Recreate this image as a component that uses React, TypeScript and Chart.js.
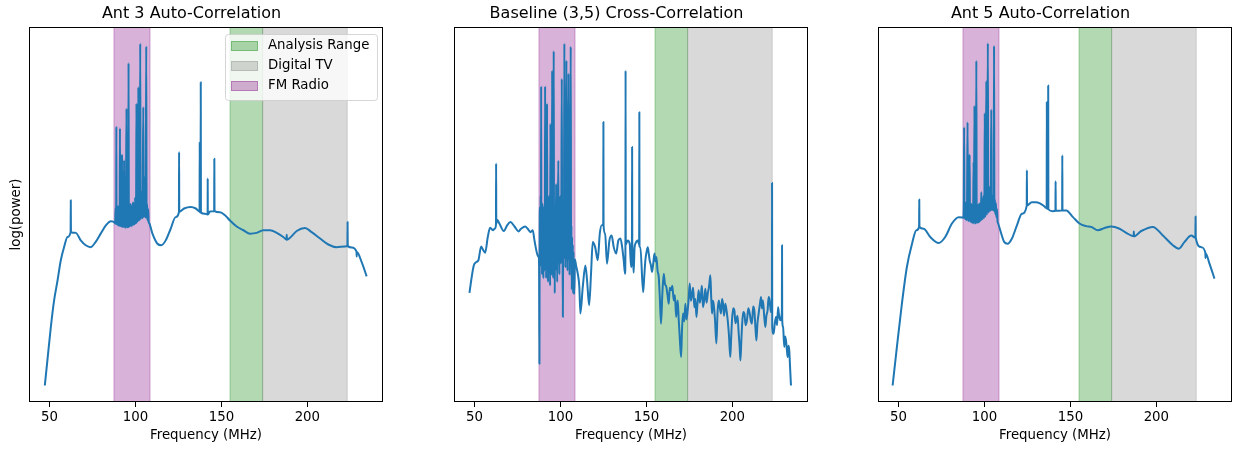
import React, { useEffect, useRef } from 'react';
import { Chart, registerables } from 'chart.js';

Chart.register(...registerables);

// ---------- data ----------
const xTicks = [50, 100, 150, 200];
const xMin = 38.1;
const xMax = 244;
const yMin = 0;
const yMax = 100;

const panelTitles = ['Ant 3 Auto-Correlation', 'Baseline (3,5) Cross-Correlation', 'Ant 5 Auto-Correlation'];
const yLabel = 'log(power)';
const xLabel = 'Frequency (MHz)';

const bandNames = ['Analysis Range', 'Digital TV', 'FM Radio'];
const bandStarts = [155, 174, 87.5];
const bandEnds = [174, 223.2, 108.5];

// [frequency MHz, log(power) in relative units]
const ant3Spectrum: [number, number][] = [
  [47.3, 4.4], [48.8, 11.1], [50.8, 20], [52.7, 27.1], [54.7, 32.4], [56.6, 37.8], [58.5, 41.3],
  [60.5, 44], [62.3, 45.3], [62.4, 53.8], [62.5, 45.3], [65.3, 45.1], [68.2, 43.1], [71.1, 41.8],
  [74, 41.3], [76.9, 42.7], [79.8, 44.9], [82.8, 47.1], [85.7, 48.2], [88.0, 47.8],
  [88.2, 47.6], [88.5, 51.8], [88.8, 47.4], [88.9, 73.5], [89.0, 47.4], [89.3, 51.5], [89.6, 47.2],
  [89.9, 52.3], [90.2, 47.0], [90.5, 51.6], [90.8, 46.9], [91.0, 73.0], [91.2, 46.9], [91.5, 51.8],
  [91.8, 46.8], [92.1, 52.0], [92.2, 66.0], [92.3, 46.7], [92.6, 51.3], [92.9, 46.6], [93.2, 52.4],
  [93.4, 64.5], [93.6, 46.6], [93.9, 51.5], [94.2, 46.5], [94.5, 52.0], [94.8, 78.3], [95.0, 46.5],
  [95.3, 51.7], [95.6, 46.6], [95.9, 52.2], [96.0, 90.4], [96.2, 46.7], [96.5, 51.4], [96.8, 46.8],
  [97.1, 52.0], [97.3, 52.8], [97.5, 46.9], [97.8, 51.5], [98.1, 47.0], [98.4, 52.3], [98.8, 53.2],
  [99.0, 47.2], [99.3, 52.0], [99.6, 47.4], [99.8, 54.5], [100.1, 47.6], [100.4, 52.4], [100.6, 79.6],
  [100.8, 47.8], [101.1, 52.6], [101.4, 48.1], [101.7, 84.0], [101.9, 48.3], [102.2, 53.0], [102.5, 48.5],
  [102.8, 95.6], [103.0, 48.7], [103.3, 53.4], [103.6, 56.0], [103.9, 49.0], [104.2, 53.5], [104.6, 78.7],
  [104.8, 49.2], [105.1, 53.8], [105.5, 60.0], [105.7, 49.2], [106.0, 53.5], [106.3, 94.9], [106.5, 48.9],
  [106.8, 52.8], [107.1, 48.4], [107.4, 51.5], [107.7, 48.0], [107.9, 47.8],
  [109.9, 44.9], [112.8, 42.2], [115.1, 41.8], [117.6, 43.1], [120.5, 46.2], [123.4, 49.3],
  [125.3, 50.6], [125.4, 66.7], [125.5, 50.7], [128.3, 51.6], [132.2, 52.0], [135.1, 51.6],
  [137.3, 50.8], [137.4, 69.3], [137.5, 50.7], [137.9, 50.6], [138.0, 85.3], [138.1, 50.5],
  [140.5, 50.2], [142.0, 50.0], [142.05, 59.6], [142.1, 50.0], [143.4, 50.8], [145.8, 50.9],
  [145.9, 64.9], [146.0, 50.9], [149.2, 50.6], [152.1, 49.8], [155, 48.4], [158.9, 46.8],
  [162.8, 45.8], [166.7, 44.9], [170.5, 45.1], [174.4, 45.8], [178.3, 45.8], [182.2, 45.1],
  [186, 44], [187.9, 43.3], [188.0, 44.6], [188.1, 43.3], [189.9, 43.8], [193.8, 45.6],
  [198.6, 46.4], [202.5, 45.3], [207.4, 43.6], [212.2, 42], [217, 41.3], [221.9, 41.5],
  [223.3, 41.6], [223.4, 48.0], [223.5, 41.6], [225.8, 41.2], [228.6, 40.1], [228.7, 38.8],
  [228.8, 40.0], [231.6, 37.3], [234.5, 33.5],
];

const crossSpectrum: [number, number][] = [
  [47.1, 29.1], [48.1, 32.4], [49.6, 36.4], [51, 37.3], [52.3, 37.8], [53.9, 41.5], [55, 40.6],
  [56.2, 39.8], [57.75, 44], [59.1, 46.5], [60.7, 45.8], [61.8, 46.2], [62.5, 47.2], [62.6, 63.6],
  [62.7, 47.5], [63.2, 48.6], [64.5, 47.6], [67.1, 45.6], [69, 47.1], [70.9, 48], [73.3, 46.8],
  [75.6, 45.5], [77.1, 46.2], [79.5, 46.8], [81, 46.2], [82.6, 45.3], [83.9, 45.8], [84.9, 43.1],
  [86.4, 39.6], [87.2, 38.7],
  [87.4, 38.7], [87.6, 36], [87.8, 10.2], [87.9, 40], [88.1, 52], [88.3, 36], [88.5, 55], [88.7, 38],
  [88.8, 84.2], [88.9, 40], [89.1, 50], [89.3, 34], [89.5, 53], [89.7, 37], [89.9, 48], [90.1, 33],
  [90.3, 52], [90.5, 36], [90.7, 46], [90.9, 35], [91.1, 84.2], [91.3, 38], [91.5, 54], [91.7, 33],
  [91.9, 47], [92.1, 36], [92.2, 79.6], [92.4, 38], [92.6, 50], [92.8, 32], [93.0, 45], [93.2, 36],
  [93.4, 55], [93.6, 34], [93.8, 49], [94.0, 31], [94.2, 74.2], [94.4, 37], [94.6, 52], [94.8, 34],
  [95.0, 47], [95.2, 88.4], [95.4, 35], [95.6, 51], [95.8, 33], [96.1, 93.6], [96.3, 38], [96.5, 49],
  [96.7, 29], [96.9, 46], [97.1, 36], [97.5, 58.2], [97.7, 35], [97.9, 50], [98.1, 32], [98.4, 45],
  [98.8, 64.4], [99.0, 37], [99.2, 51], [99.4, 34], [99.6, 48], [99.8, 38], [100.0, 55], [100.2, 37],
  [100.5, 47], [100.8, 86.2], [101.0, 39], [101.2, 50], [101.4, 22.7], [101.6, 44], [101.8, 52],
  [102.0, 38], [102.3, 95.6], [102.5, 40], [102.7, 53], [102.9, 36], [103.1, 49], [103.5, 91.1],
  [103.7, 38], [103.9, 52], [104.1, 35], [104.4, 48], [104.7, 87.6], [104.9, 38], [105.1, 51],
  [105.3, 34], [105.6, 49], [106.0, 94.8], [106.2, 36], [106.4, 47], [106.6, 30], [106.8, 44],
  [107.0, 33], [107.2, 42], [107.4, 29], [107.6, 40], [107.8, 31], [108.1, 28.9], [108.4, 38],
  [109.1, 36.4], [110.1, 34.2], [111, 30.7], [111.6, 23.6], [113, 30.7], [114.5, 36.4], [115.5, 32.4],
  [116.7, 25.8], [117.8, 34.2], [118.8, 42.7], [120.2, 41.3], [121.7, 37.8], [122.9, 44.9], [124, 47.1],
  [124.9, 47.5], [125.0, 74.7], [125.1, 47], [126, 44.9], [127.1, 36.9], [128.5, 43.1], [129.8, 44.4],
  [131, 41.3], [132.4, 39.6], [133.7, 43.1], [134.9, 43.6], [135.9, 41.3], [136.8, 37.8], [137.6, 34.2],
  [137.8, 40], [137.9, 88.4], [138.0, 42], [139.1, 43.1], [140.3, 42.2], [141.1, 36], [141.6, 43],
  [141.7, 68], [141.8, 42.5], [142.2, 38.7], [142.6, 34.5], [143.1, 41], [143.6, 42.2], [145, 43.1],
  [145.8, 42], [145.9, 77.3], [146.0, 41.5], [146.5, 41.3], [148.1, 29.3], [148.7, 33], [149.4, 37.8],
  [150.1, 40], [150.8, 41.3], [151.4, 39.5], [151.9, 37.8], [152.6, 36.5], [153.3, 34.7], [154.0, 37],
  [154.7, 39.6], [155.2, 37.5], [155.8, 38.7], [156.5, 35], [157.2, 33.3], [157.8, 28], [158.5, 20.9],
  [159.3, 29], [160.1, 34.2], [160.8, 31.5], [161.6, 30.7], [162.3, 28.5], [163, 26.2], [163.6, 30.5],
  [164.3, 29.8], [165.1, 31], [165.9, 27.1], [166.6, 28.5], [167.3, 22.7], [167.7, 25], [168.2, 27.1],
  [168.8, 22], [169.4, 17.3], [170.2, 12], [170.7, 19], [171.3, 23.6], [172.0, 21.5], [172.7, 26.2],
  [173.3, 22], [174, 24.4], [174.6, 27.5], [175.2, 31.6], [175.9, 27], [176.6, 28.9], [177.2, 30.5],
  [177.9, 25.3], [178.5, 27.5], [179.1, 22.7], [179.7, 26], [180.4, 29.8], [181.1, 26.5], [181.8, 28.9],
  [182.3, 31], [182.9, 25.3], [183.6, 27], [184.3, 30.2], [185.0, 26.5], [185.7, 28.9], [186.5, 31],
  [187.2, 33.8], [187.7, 28], [188.2, 23.6], [188.6, 27], [189.1, 26.2], [189.9, 22], [190.7, 15.6],
  [191.4, 24], [192.1, 27.1], [192.8, 25], [193.4, 23.6], [194.0, 27.5], [194.6, 26.2], [195.2, 23],
  [195.9, 26.2], [196.6, 24.5], [197.3, 21.8], [198.0, 18], [198.8, 12], [199.3, 17], [199.8, 21.8],
  [200.5, 25], [201.2, 24.4], [201.8, 21], [202.3, 21.8], [203.0, 23], [203.7, 18.2], [204.2, 15],
  [204.7, 11.1], [205.2, 16], [205.6, 20], [206.3, 24], [207, 23.6], [207.7, 20.5], [208.5, 21.8],
  [209.3, 25], [210.1, 23.6], [210.8, 21.5], [211.4, 20.9], [212.1, 25.5], [212.8, 24.4], [213.4, 20],
  [214, 16.4], [214.6, 21], [215.3, 23.6], [216.0, 26], [216.7, 28], [217.2, 25], [217.8, 27.1],
  [218.5, 23], [219.2, 20], [219.8, 23], [220.5, 24.4], [221.1, 28], [221.7, 27.1], [222.4, 24],
  [223.0, 25], [223.1, 58.4], [223.2, 20], [224, 18.2], [224.7, 21], [225.4, 22.7], [226.0, 20.5],
  [226.6, 25.3], [227.2, 23], [227.9, 21.8], [228.8, 24], [228.9, 41.8], [229.0, 22], [229.5, 20],
  [230.2, 14.7], [230.7, 17.5], [231.2, 16.4], [231.7, 14], [232.2, 12], [232.6, 15], [233.1, 13.8],
  [233.6, 9], [234.1, 4.4],
];

const ant5Spectrum: [number, number][] = [
  [46.6, 4.4], [49.1, 14.7], [52, 26.2], [54.9, 36], [57.9, 42.2], [60.4, 45.8], [62.0, 46.7],
  [62.1, 54], [62.2, 46.7], [64.6, 46.2], [68.5, 44], [73.4, 42.4], [77.2, 44], [81.1, 47.6],
  [85, 49.3], [87.4, 49.2],
  [87.7, 49.1], [88.0, 53.0], [88.2, 73.3], [88.4, 48.9], [88.7, 52.8], [89.0, 48.7], [89.3, 53.2],
  [89.6, 48.5], [89.9, 52.6], [90.2, 74.6], [90.4, 48.3], [90.7, 52.7], [91.0, 48.2], [91.4, 66.0],
  [91.6, 48.1], [91.9, 52.4], [92.2, 48.0], [92.5, 52.9], [92.8, 47.8], [93.1, 52.2], [93.4, 47.7],
  [93.7, 64.0], [93.9, 47.6], [94.2, 79.0], [94.4, 47.6], [94.7, 52.4], [95.0, 47.6], [95.3, 91.0],
  [95.5, 47.7], [95.8, 52.3], [96.1, 47.8], [96.4, 52.6], [96.7, 47.9], [97.0, 53.0], [97.3, 48.1],
  [97.6, 52.8], [97.9, 48.4], [98.2, 56.0], [98.4, 48.6], [98.7, 53.0], [99.0, 48.8], [99.3, 53.4],
  [99.5, 55.0], [99.7, 49.1], [100.0, 53.6], [100.2, 77.0], [100.4, 49.5], [100.7, 53.9], [101.1, 85.6],
  [101.3, 50.0], [101.6, 54.2], [102.0, 95.7], [102.2, 50.5], [102.5, 54.5], [102.8, 50.8], [103.2, 57.5],
  [103.4, 51.0], [103.7, 55.0], [104.0, 78.0], [104.2, 51.2], [104.5, 55.2], [104.8, 51.2], [105.1, 54.8],
  [105.4, 51.0], [105.6, 95.0], [105.8, 50.7], [106.1, 54.0], [106.4, 50.0], [106.7, 53.0], [107.0, 49.2],
  [107.3, 51.5], [107.6, 48.3], [108.0, 47.6],
  [109.2, 45.8], [111.5, 42.7], [113.5, 42.2], [116, 43.6], [118.9, 47.1], [121.8, 50.2], [124.6, 52.3],
  [124.7, 61.8], [124.8, 52.4], [127.6, 53.3], [130, 53.3], [132.5, 52.9], [134.5, 52.3], [136.2, 51.7],
  [136.3, 80.0], [136.4, 51.6], [137.0, 51.5], [137.1, 84.4], [137.2, 51.4], [139.8, 50.9], [141.3, 51.0],
  [141.4, 58.9], [141.5, 51.0], [143.5, 51.0], [145.2, 51.1], [145.3, 65.8], [145.4, 51.1], [147.6, 51.1],
  [151.5, 49.3], [155.3, 47.6], [159.2, 46.9], [162.1, 46.7], [166, 45.8], [169.9, 46.4], [173.7, 46.8],
  [178.6, 46.2], [182.5, 45.1], [186.8, 44.2], [186.9, 45.5], [187.0, 44.2], [191.2, 45.6], [198, 46.7],
  [203.8, 44.4], [209.6, 41.8], [213.1, 40.9], [216.4, 42.7], [220.3, 44.4], [222.7, 43.8], [222.8, 49.5],
  [222.9, 43.8], [226.1, 41.3], [228.5, 39.8], [228.6, 38.4], [228.7, 39.6], [230.9, 36.9], [233.8, 32.9],
];

const panelSpectra = [ant3Spectrum, crossSpectrum, ant5Spectrum];

// ---------- styles / layout ----------
const FONT = "'DejaVu Sans', 'Liberation Sans', sans-serif";
const LINE_COLOR = '#1f77b4';
const BAND_COLORS = ['rgba(0,128,0,0.3)', 'rgba(128,128,128,0.3)', 'rgba(128,0,128,0.3)'];
const CANVAS_LEFTS = [0, 425, 849];
const CANVAS_W = 386;
const CANVAS_H = 449;

const bandsPlugin = {
  id: 'bands',
  beforeDatasetsDraw(chart: any) {
    const { ctx, chartArea } = chart;
    const xs = chart.scales.x;
    ctx.save();
    ctx.beginPath();
    ctx.rect(chartArea.left, chartArea.top, chartArea.right - chartArea.left, chartArea.bottom - chartArea.top);
    ctx.clip();
    for (let i = 0; i < bandNames.length; i++) {
      const x1 = xs.getPixelForValue(bandStarts[i]);
      const x2 = xs.getPixelForValue(bandEnds[i]);
      ctx.fillStyle = BAND_COLORS[i];
      ctx.fillRect(x1, chartArea.top, x2 - x1, chartArea.bottom - chartArea.top);
      ctx.strokeStyle = BAND_COLORS[i];
      ctx.lineWidth = 1;
      ctx.beginPath();
      ctx.moveTo(x1, chartArea.top);
      ctx.lineTo(x1, chartArea.bottom);
      ctx.moveTo(x2, chartArea.top);
      ctx.lineTo(x2, chartArea.bottom);
      ctx.stroke();
    }
    ctx.restore();
  },
};

const framePlugin = {
  id: 'frame',
  afterDatasetsDraw(chart: any) {
    const { ctx, chartArea } = chart;
    ctx.save();
    ctx.strokeStyle = '#000';
    ctx.lineWidth = 1;
    ctx.strokeRect(chartArea.left + 0.5, chartArea.top + 0.5, chartArea.right - chartArea.left - 1, chartArea.bottom - chartArea.top - 1);
    ctx.restore();
  },
};

const legendPlugin = {
  id: 'bandLegend',
  afterDraw(chart: any) {
    if (!chart.options.plugins.bandLegend?.show) return;
    const { ctx, chartArea } = chart;
    const w = 152;
    const h = 66;
    const left = chartArea.right - 6 - w;
    const top = chartArea.top + 7;
    ctx.save();
    ctx.fillStyle = 'rgba(255,255,255,0.8)';
    ctx.strokeStyle = 'rgba(204,204,204,0.8)';
    ctx.lineWidth = 1;
    ctx.beginPath();
    (ctx as any).roundRect(left + 0.5, top + 0.5, w, h, 3);
    ctx.fill();
    ctx.stroke();
    ctx.font = `13.33px ${FONT}`;
    ctx.textBaseline = 'middle';
    ctx.textAlign = 'left';
    for (let i = 0; i < bandNames.length; i++) {
      const cy = top + 12 + i * 20;
      ctx.fillStyle = BAND_COLORS[i];
      ctx.fillRect(left + 6, cy - 5, 27, 10);
      ctx.strokeStyle = BAND_COLORS[i];
      ctx.strokeRect(left + 6.5, cy - 4.5, 26, 9);
      ctx.fillStyle = '#000';
      ctx.fillText(bandNames[i], left + 43, cy);
    }
    ctx.restore();
  },
};

function Panel({ idx }: { idx: number }) {
  const ref = useRef<HTMLCanvasElement | null>(null);
  useEffect(() => {
    if (!ref.current) return;
    const pts = panelSpectra[idx].map(([x, y]) => ({ x, y }));
    const chart = new Chart(ref.current, {
      type: 'line',
      data: {
        datasets: [
          {
            data: pts,
            borderColor: LINE_COLOR,
            borderWidth: 2,
            pointRadius: 0,
            cubicInterpolationMode: 'monotone',
            fill: false,
            borderJoinStyle: 'round',
            borderCapStyle: 'butt',
          } as any,
        ],
      },
      options: {
        animation: false,
        responsive: false,
        devicePixelRatio: 1,
        layout: { padding: { left: 0, right: 3, top: 0, bottom: 0 } },
        plugins: {
          legend: { display: false },
          tooltip: { enabled: false },
          title: {
            display: true,
            text: panelTitles[idx],
            color: '#000',
            font: { family: FONT, size: 16, weight: 'normal' as any },
            padding: { top: 4.6, bottom: 3.2 },
          },
          bandLegend: { show: idx === 0 },
        } as any,
        scales: {
          x: {
            type: 'linear',
            min: xMin,
            max: xMax,
            afterBuildTicks: (s: any) => {
              s.ticks = xTicks.map((v) => ({ value: v }));
            },
            afterFit: (s: any) => {
              s.height = 47;
            },
            ticks: {
              color: '#000',
              font: { family: FONT, size: 13.33 },
              padding: 3,
              maxRotation: 0,
              autoSkip: false,
            },
            grid: {
              display: true,
              drawOnChartArea: false,
              drawTicks: true,
              tickLength: 5,
              tickColor: '#000',
              tickWidth: 1,
            },
            border: { display: false },
            title: {
              display: true,
              text: xLabel,
              color: '#000',
              font: { family: FONT, size: 13.33 },
              padding: { top: 0, bottom: 5.5 },
            },
          },
          y: {
            type: 'linear',
            min: yMin,
            max: yMax,
            afterFit: (s: any) => {
              s.width = 29;
            },
            ticks: { display: false },
            grid: { display: false },
            border: { display: false },
            title: {
              display: idx === 0,
              text: yLabel,
              color: '#000',
              font: { family: FONT, size: 13.33 },
              padding: { top: 9, bottom: 0 },
            },
          },
        },
      },
      plugins: [bandsPlugin, framePlugin, legendPlugin],
    } as any);
    return () => chart.destroy();
  }, [idx]);
  return (
    <canvas
      ref={ref}
      width={CANVAS_W}
      height={CANVAS_H}
      style={{ position: 'absolute', left: CANVAS_LEFTS[idx], top: 0, width: CANVAS_W, height: CANVAS_H }}
    />
  );
}

export default function App() {
  return (
    <div style={{ position: 'absolute', left: 0, top: 0, width: 1235, height: 449, background: '#fff', overflow: 'hidden' }}>
      <Panel idx={0} />
      <Panel idx={1} />
      <Panel idx={2} />
    </div>
  );
}
